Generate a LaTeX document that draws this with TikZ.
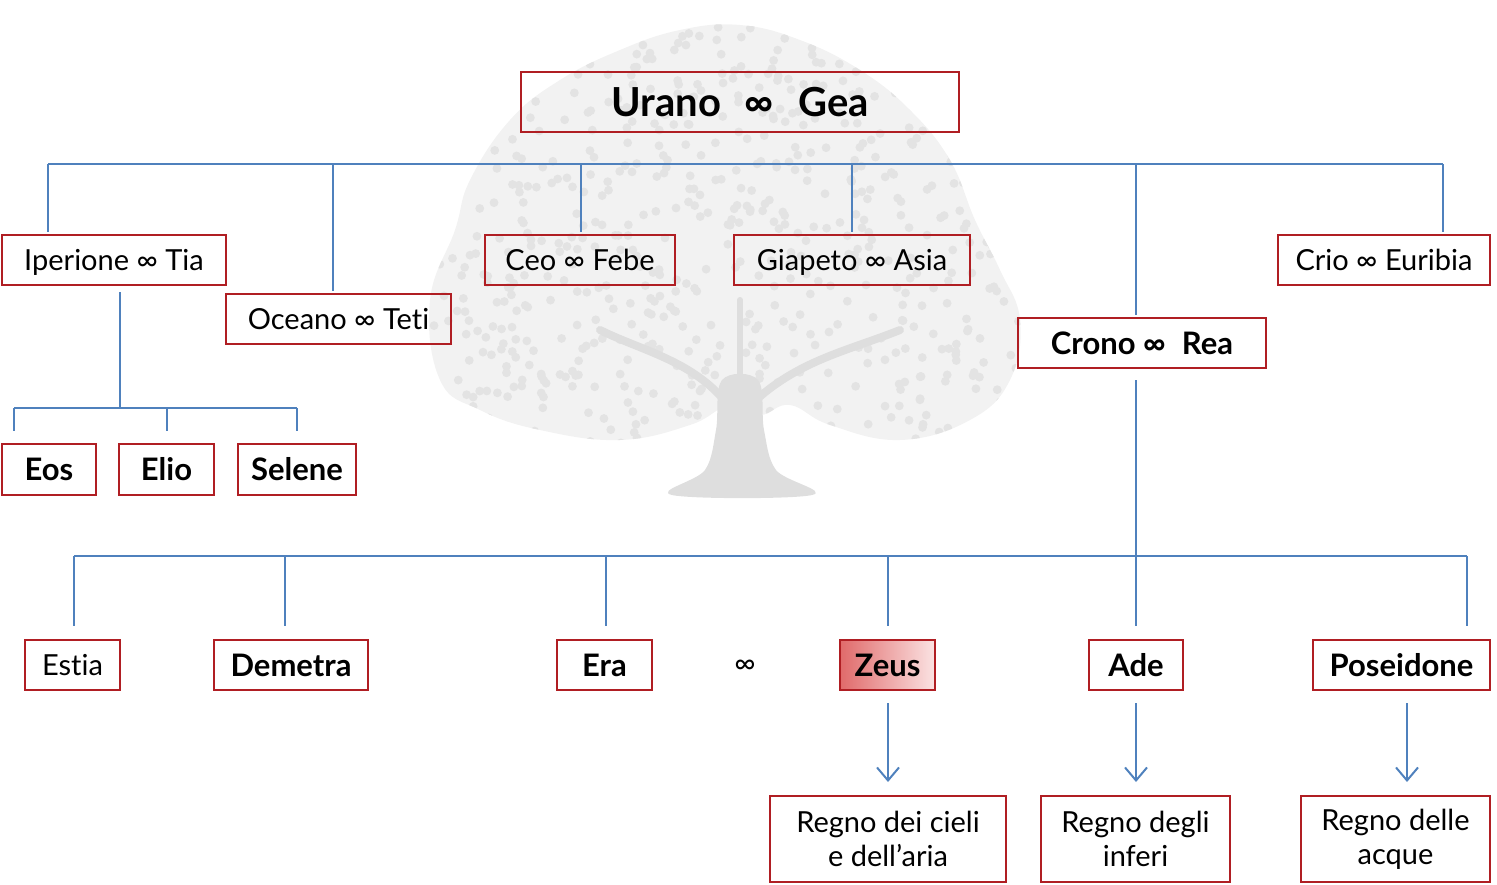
\documentclass[tikz,border=0pt]{standalone}
\usepackage{fontspec}
\setmainfont{Lato}[Ligatures={NoCommon}]
\usetikzlibrary{arrows.meta}
\definecolor{boxred}{HTML}{B01E23}
\definecolor{lineblue}{HTML}{4F81BD}
\definecolor{zeusdark}{HTML}{E06A6A}
\definecolor{zeuslight}{HTML}{FBE3E3}
\tikzset{
  box/.style={draw=boxred, line width=1pt, inner sep=0pt, align=center, font=\fontsize{14.5}{17}\selectfont},
  onel/.style={text height=10.5pt, text depth=0pt},
  boldbox/.style={box, font=\fontsize{15.5}{17}\selectfont\bfseries},
  conn/.style={draw=lineblue, line width=1pt},
  arr/.style={conn, -{Straight Barb[length=6.5pt,width=11pt,line width=1pt]}},
}
\begin{document}
\begin{tikzpicture}[x=0.5pt,y=-0.5pt]
\useasboundingbox (0,0) rectangle (1497,884);
% background tree
\def\canopy{plot[smooth cycle, tension=0.7] coordinates {(440,380) (430,300) (455,230) (470,180) (510,120) (560,80) (620,50) (680,30) (740,25) (800,40) (860,70) (910,110) (950,160) (975,220) (1000,270) (1020,320) (1010,380) (970,420) (900,440) (830,425) (790,405) (760,415) (730,405) (690,425) (620,440) (540,430) (480,410)}}
\fill[black!5] \canopy;
\begin{scope}
\clip \canopy;
\pgfmathsetseed{7}
\foreach \i in {1,...,700} {
  \pgfmathsetmacro{\px}{430+590*rnd}
  \pgfmathsetmacro{\py}{20+425*rnd}
  \fill[black!11] (\px,\py) circle (2.2pt);
}
\end{scope}
\fill[black!13] plot[smooth cycle, tension=0.6] coordinates {(722,380) (716,430) (705,470) (672,495) (812,495) (776,470) (764,430) (758,380)};
\draw[black!13, line width=4pt, line cap=round] (724,400) .. controls (690,360) and (640,350) .. (600,330);
\draw[black!13, line width=4pt, line cap=round] (756,400) .. controls (800,360) and (850,350) .. (900,330);
\draw[black!13, line width=3pt, line cap=round] (740,390) -- (740,300);

% nodes
\node[boldbox, minimum width=219pt, minimum height=30pt, font=\fontsize{20}{24}\selectfont\bfseries] (ur) at (740,102) {Urano\hspace{12pt}∞\hspace{12pt}Gea};
\node[box, onel, minimum width=112pt, minimum height=25pt] (ip) at (114,260) {Iperione ∞ Tia};
\node[box, onel, minimum width=112.5pt, minimum height=25pt] (oc) at (338.5,319) {Oceano ∞ Teti};
\node[box, onel, minimum width=95pt, minimum height=25pt] (ce) at (580,260) {Ceo ∞ Febe};
\node[box, onel, minimum width=118pt, minimum height=25pt] (gi) at (852,260) {Giapeto ∞ Asia};
\node[box, onel, minimum width=106pt, minimum height=25pt] (cr) at (1384,260) {Crio ∞ Euribia};
\node[boldbox, minimum width=124pt, minimum height=25pt] (cn) at (1142,343) {Crono ∞\hspace{8pt}Rea};
\node[boldbox, minimum width=47pt, minimum height=25.5pt] (eos) at (49,469.5) {Eos};
\node[boldbox, minimum width=47.5pt, minimum height=25.5pt] (eli) at (166.5,469.5) {Elio};
\node[boldbox, minimum width=59pt, minimum height=25.5pt] (sel) at (297,469.5) {Selene};
\node[box, onel, minimum width=47.5pt, minimum height=25pt] (est) at (72.5,665) {Estia};
\node[boldbox, minimum width=77pt, minimum height=25pt] (dem) at (291,665) {Demetra};
\node[boldbox, minimum width=47.5pt, minimum height=25pt] (era) at (604.5,665) {Era};
\node[font=\fontsize{14.5}{17}\selectfont, inner sep=1pt] (inf) at (745,667) {∞};
\node[boldbox, minimum width=47.5pt, minimum height=25pt, left color=zeusdark, right color=zeuslight] (zeu) at (887.5,665) {Zeus};
\node[boldbox, minimum width=47pt, minimum height=25pt] (ade) at (1136,665) {Ade};
\node[boldbox, minimum width=88.5pt, minimum height=25pt] (pos) at (1401.5,665) {Poseidone};
\node[box, minimum width=118pt, minimum height=43pt] (rg1) at (888,839) {Regno dei cieli\\e dell’aria};
\node[box, minimum width=94.5pt, minimum height=43pt] (rg2) at (1135.5,839) {Regno degli\\inferi};
\node[box, minimum width=94.5pt, minimum height=43pt] (rg3) at (1395.5,839) {Regno delle\\acque};

% top bus
\coordinate (t1) at (48,164);
\coordinate (t2) at (333,164);
\coordinate (t3) at (581,164);
\coordinate (t4) at (852,164);
\coordinate (t5) at (1136,164);
\coordinate (t6) at (1443,164);
\draw[conn] (t1) -- (t6);
\draw[conn] (t1) -- ([yshift=1pt]t1 |- ip.north);
\draw[conn] (t2) -- ([yshift=1pt]t2 |- oc.north);
\draw[conn] (t3) -- ([yshift=1pt]t3 |- ce.north);
\draw[conn] (t4) -- ([yshift=1pt]t4 |- gi.north);
\draw[conn] (t5) -- ([yshift=1pt]t5 |- cn.north);
\draw[conn] (t6) -- ([yshift=1pt]t6 |- cr.north);

% Iperione children
\coordinate (i0) at (120,292);
\coordinate (i1) at (14,408);
\coordinate (i2) at (167,408);
\coordinate (i3) at (297,408);
\coordinate (ib) at (120,408);
\draw[conn] (i0) -- (ib);
\draw[conn] (i1) -- (i3);
\draw[conn] (i1) -- ([yshift=6pt]i1 |- eos.north);
\draw[conn] (i2) -- ([yshift=6pt]i2 |- eli.north);
\draw[conn] (i3) -- ([yshift=6pt]i3 |- sel.north);

% Crono children
\coordinate (c0) at (1136,380);
\coordinate (b1) at (74,556);
\coordinate (b2) at (285,556);
\coordinate (b3) at (606,556);
\coordinate (b4) at (888,556);
\coordinate (b5) at (1136,556);
\coordinate (b6) at (1467,556);
\draw[conn] (c0) -- ([yshift=6.5pt]b5 |- ade.north);
\draw[conn] (b1) -- (b6);
\draw[conn] (b1) -- ([yshift=6.5pt]b1 |- est.north);
\draw[conn] (b2) -- ([yshift=6.5pt]b2 |- dem.north);
\draw[conn] (b3) -- ([yshift=6.5pt]b3 |- era.north);
\draw[conn] (b4) -- ([yshift=6.5pt]b4 |- zeu.north);
\draw[conn] (b6) -- ([yshift=6.5pt]b6 |- pos.north);

% arrows
\coordinate (a1) at (888,703);
\coordinate (a2) at (1136,703);
\coordinate (a3) at (1407,703);
\draw[arr] (a1) -- ([yshift=6.5pt]a1 |- rg1.north);
\draw[arr] (a2) -- ([yshift=6.5pt]a2 |- rg2.north);
\draw[arr] (a3) -- ([yshift=6.5pt]a3 |- rg3.north);
\end{tikzpicture}
\end{document}
